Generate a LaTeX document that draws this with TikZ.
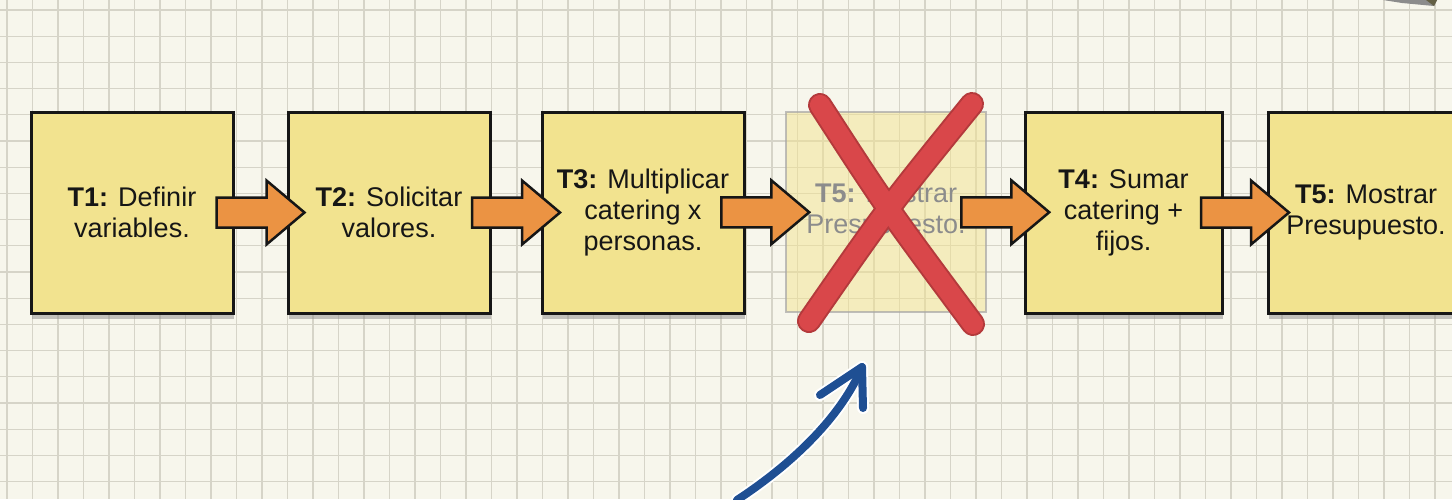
\documentclass[tikz,border=0pt]{standalone}
\usepackage{fontspec}
\setmainfont{Liberation Sans}
\usetikzlibrary{calc,shadows}
\definecolor{paper}{HTML}{F7F6EC}
\definecolor{gridc}{HTML}{D6D4C8}
\definecolor{note}{HTML}{F2E38F}
\definecolor{ink}{HTML}{161616}
\definecolor{carrot}{HTML}{EB9343}
\definecolor{slash}{HTML}{D9474A}
\definecolor{slashdk}{HTML}{B43A3C}
\definecolor{penblue}{HTML}{1F4F93}
\begin{document}
\begin{tikzpicture}
[x=1pt,y=-1pt,every node/.style={align=center,font=\fontsize{27}{31}\selectfont},
task/.style={rectangle,draw=ink,line width=3pt,fill=note,text=ink,inner sep=0pt,
  minimum width=202pt,minimum height=201pt,
  drop shadow={shadow xshift=1pt,shadow yshift=-6pt,fill=black!45,opacity=.5}},
gone/.style={rectangle,draw=black!35,line width=2pt,fill=note,fill opacity=.5,
  draw opacity=.7,text=black!45,text opacity=1,inner sep=0pt,
  minimum width=200pt,minimum height=200pt},
blk/.style={draw=ink,line width=2.5pt,fill=carrot,line join=miter},
gridline/.style={draw=gridc,line width=1.3pt},
nudge/.style={line width=8pt,line cap=round,line join=round}]
\useasboundingbox (0,0) rectangle (1452,499);
\clip (0,0) rectangle (1452,499);
\fill[paper] (0,0) rectangle (1452,499);
\foreach \i in {0,...,56} \draw[gridline] ({7+25.5*\i},0) -- ({7+25.5*\i},499);
\foreach \j in {0,...,18} \draw[gridline] (0,{10+26.2*\j}) -- (1452,{10+26.2*\j});
% pencil tip peeking in
\fill[black!45] (1383,0) -- (1437,0) -- (1434,6) -- (1402,3) -- cycle;
\fill[black!70!yellow] (1426,0) -- (1437,0) -- (1434,6) -- cycle;
% tasks
\node[task] (t1) at (132,212.5) {\textbf{T1:} Definir\\variables.};
\node[task] (t2) at (389,212.5) {\textbf{T2:} Solicitar\\valores.};
\node[task] (t3) at (643,212.5) {\textbf{T3:} Multiplicar\\catering x\\personas.};
\node[gone] (t5x) at (886,212) {\textbf{T5:} Mostrar\\Presupuesto.};
\node[task,minimum width=197pt] (t4) at (1123.5,212.5) {\textbf{T4:} Sumar\\catering +\\fijos.};
\node[task,minimum width=196pt] (t5) at (1366,212.5) {\textbf{T5:} Mostrar\\Presupuesto.};
% block arrows
\foreach \a/\b in {t1/t2,t2/t3,t3/t5x,t5x/t4,t4/t5}
  \draw[blk] ($(\a.east)!.5!(\b.west)+(-44,-15)$) -- ++(50,0) -- ++(0,-17)
    -- ++(38,32) -- ++(-38,32) -- ++(0,-17) -- ++(-50,0) -- cycle;
% cross over the misplaced step
\foreach \w/\c in {24/slashdk,20/slash}{
  \draw[line width=\w pt,line cap=round,draw=\c]
    ($(t5x.center)+(-66,-107)$) .. controls ($(t5x.center)+(0,-5)$) .. ($(t5x.center)+(87,112)$);
  \draw[line width=\w pt,line cap=round,draw=\c]
    ($(t5x.center)+(86,-108)$) .. controls ($(t5x.center)+(0,-2)$) .. ($(t5x.center)+(-77,109)$);
}
% pointer
\coordinate (pen) at (737,500);
\coordinate (hint) at (862,367);
\draw[nudge,white,line width=12pt] (pen) .. controls (795,462) and (842,415) .. (hint);
\draw[nudge,white,line width=12pt] (hint) -- ++(-42,28) (hint) -- ++(1,41);
\draw[nudge,penblue] (pen) .. controls (795,462) and (842,415) .. (hint);
\draw[nudge,penblue] (hint) -- ++(-42,28) (hint) -- ++(1,41);
\end{tikzpicture}
\end{document}
